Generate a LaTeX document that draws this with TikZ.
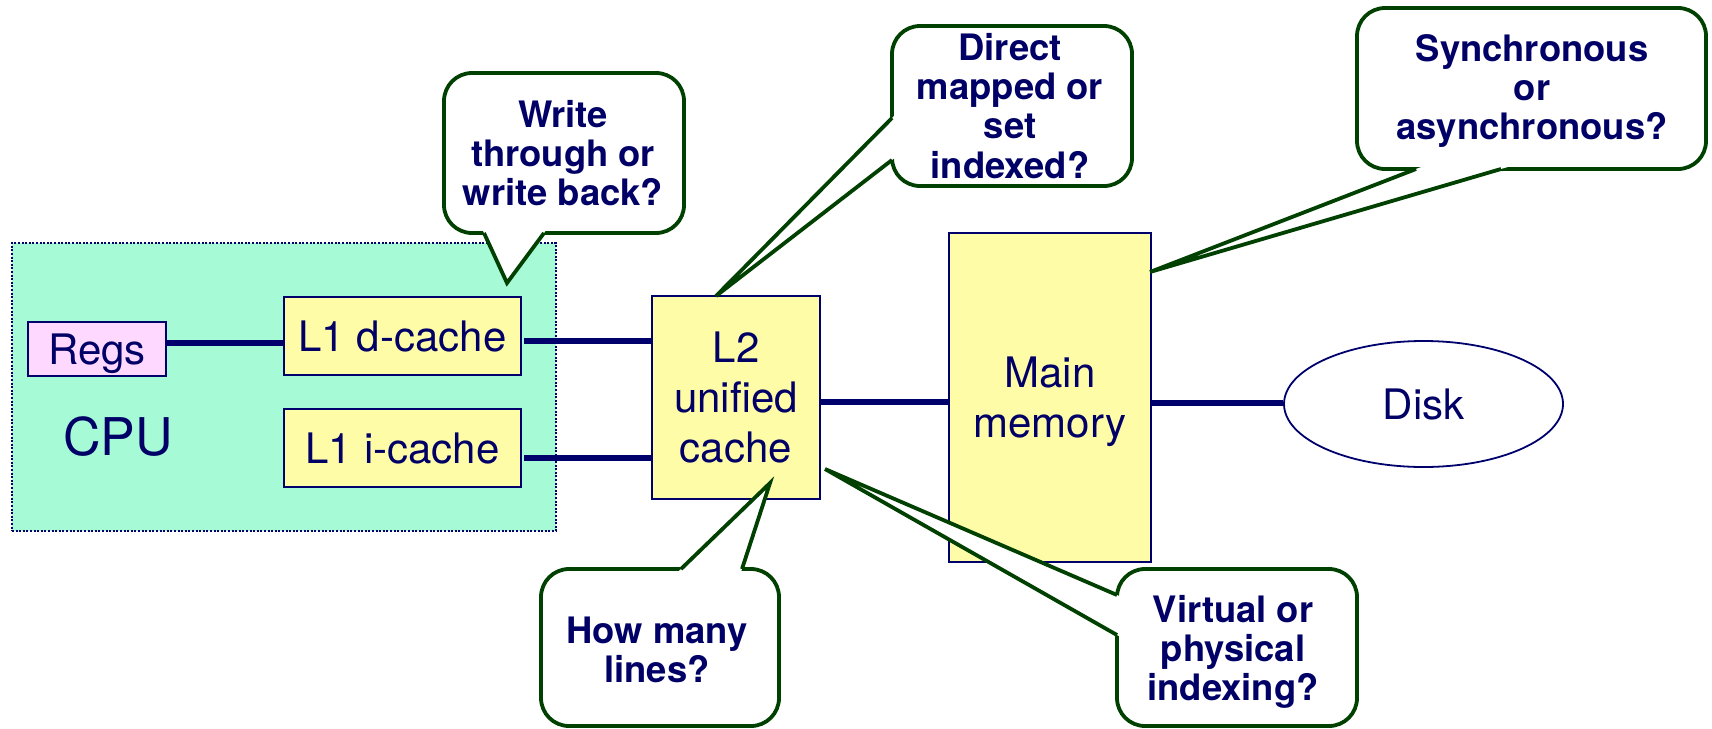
\documentclass[tikz,border=0pt]{standalone}
\usepackage{fontspec}
\setmainfont{TeX Gyre Heros}
\usetikzlibrary{shapes.geometric,calc}
\definecolor{navy}{RGB}{0,0,108}
\definecolor{navytext}{RGB}{0,0,102}
\definecolor{mint}{RGB}{166,250,214}
\definecolor{pinkfill}{RGB}{255,216,255}
\definecolor{yel}{RGB}{255,252,168}
\definecolor{bgreen}{RGB}{0,64,0}
\newcommand\bubtail[3]{%
  \fill[white] ($(#1)!-0.2!(#2)$) -- (#2) -- ($(#3)!-0.2!(#2)$) -- cycle;
  \draw[tail] (#1) -- (#2) -- (#3);}
\begin{document}
\begin{tikzpicture}[x=0.5pt,y=-0.5pt,
  box/.style={draw=navy, line width=1pt, fill=yel, inner sep=0pt, text=navytext,
    font=\fontsize{21}{25}\selectfont, align=center, text depth=-2.5pt},
  link/.style={draw=navy, line width=3pt},
  bub/.style={draw=bgreen, line width=1.9pt, fill=white, rounded corners=14pt},
  tail/.style={draw=bgreen, line width=1.9pt, line join=miter},
  btext/.style={text=navytext, font=\bfseries\fontsize{18.2}{19.6}\selectfont,
    align=center, inner sep=0pt}]
\useasboundingbox (0,0) rectangle (1712,728);

% CPU region
\node[draw=navy, line width=1pt, dash pattern=on 1pt off 0.8pt, fill=mint,
  minimum width=272pt, minimum height=144pt, inner sep=0pt] (cpu) at (284,387) {};
\node[text=navytext, font=\fontsize{26}{30}\selectfont, inner sep=0pt] (cputext) at (118,437) {CPU};

% boxes
\node[box, fill=pinkfill, minimum width=69pt, minimum height=27pt, text depth=-1pt] (regs) at (97,349) {Regs};
\node[box, minimum width=118.5pt, minimum height=39pt] (l1d) at (402.5,336) {L1 d-cache};
\node[box, minimum width=118.5pt, minimum height=39pt] (l1i) at (402.5,448) {L1 i-cache};
\node[box, minimum width=84pt, minimum height=101.5pt] (l2) at (736,397.5) {L2\\unified\\cache};
\node[box, minimum width=101pt, minimum height=164.5pt] (mem) at (1050,397.5) {Main\\memory};
\node[ellipse, draw=navy, line width=0.9pt, fill=white, inner sep=0pt, text=navytext,
  font=\fontsize{21}{25}\selectfont, text depth=-1pt, minimum width=139.5pt, minimum height=63pt] (disk) at (1423.5,404) {Disk};

% connectors
\coordinate (yA) at (0,343);
\coordinate (yB) at (0,341);
\coordinate (yC) at (0,458);
\coordinate (yD) at (0,402);
\coordinate (yE) at (0,403);
\draw[link] (regs.east |- yA) -- (l1d.west |- yA);
\draw[link] ([xshift=1pt]l1d.east |- yB) -- (l2.west |- yB);
\draw[link] ([xshift=1pt]l1i.east |- yC) -- (l2.west |- yC);
\draw[link] (l2.east |- yD) -- (mem.west |- yD);
\draw[link] (mem.east |- yE) -- (disk.west |- yE);

% callouts
\draw[bub] (444,73) rectangle (684,233);
\coordinate (wb1) at (484,233); \coordinate (wt) at (507,283); \coordinate (wb2) at (544,233);
\bubtail{wb1}{wt}{wb2}
\node[btext] (bwrite) at (563,153) {Write\\through or\\write back?};

\draw[bub] (892,26) rectangle (1132,186);
\coordinate (db1) at (892,118); \coordinate (dt) at (716,296); \coordinate (db2) at (892,160);
\bubtail{db1}{dt}{db2}
\node[btext] (bdirect) at (1010,106) {Direct\\mapped or\\set\\indexed?};

\draw[bub] (1357,8) rectangle (1706,169);
\coordinate (sb1) at (1416,169); \coordinate (st) at (1150,272); \coordinate (sb2) at (1501,169);
\bubtail{sb1}{st}{sb2}
\node[btext] (bsync) at (1532,91) {Synchronous\\or\\asynchronous?};

\draw[bub] (541,569) rectangle (779,726);
\coordinate (hb1) at (681,569); \coordinate (ht) at (770,483); \coordinate (hb2) at (742,569);
\bubtail{hb1}{ht}{hb2}
\node[btext] (bhow) at (657,650) {How many\\lines?};

\draw[bub] (1117,569) rectangle (1357,726);
\coordinate (vb1) at (1117,595); \coordinate (vt) at (825,469); \coordinate (vb2) at (1117,635);
\bubtail{vb1}{vt}{vb2}
\node[btext] (bvirt) at (1233,652) {Virtual or\\physical\\indexing?};
\end{tikzpicture}
\end{document}
